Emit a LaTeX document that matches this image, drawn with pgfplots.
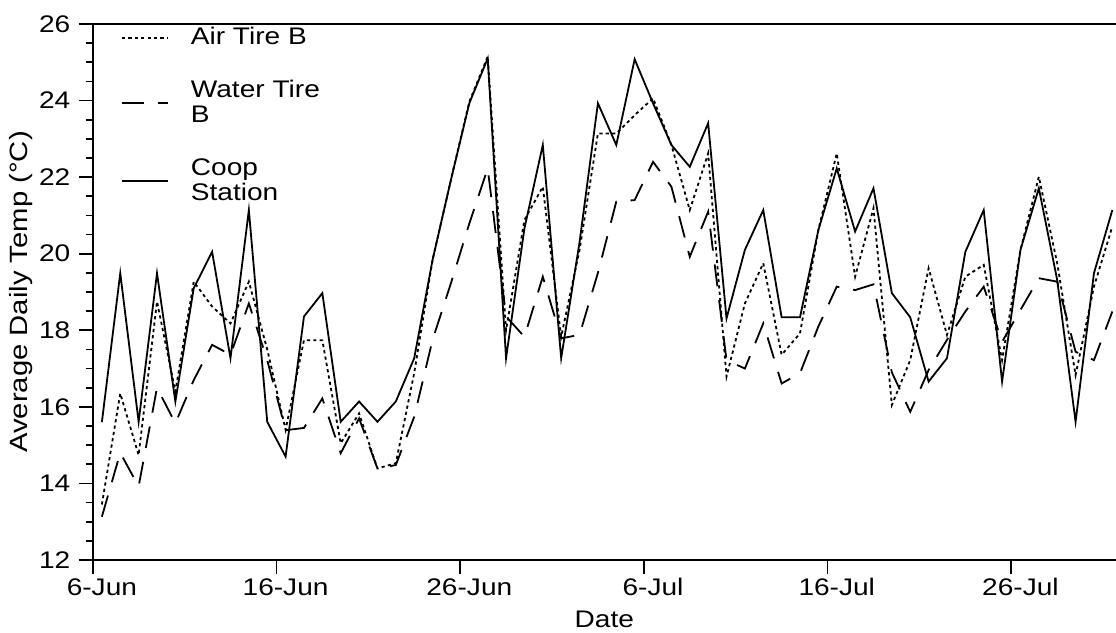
\documentclass[border=0pt]{standalone}
\usepackage{fontspec}
\setmainfont{Liberation Sans}[FakeStretch=1.17]
\usepackage{pgfplots}
\pgfplotsset{compat=1.18}
\usepackage{pgfplotstable}

% daily means, one row per day (d = day slot, 6-Jun is 0.5)
\pgfplotstableread{
d     coop   air    water
0.5   15.60  13.45  13.13
1.5   19.49  16.35  14.80
2.5   15.61  14.74  13.92
3.5   19.49  18.75  16.50
4.5   16.14  16.40  15.57
5.5   19.10  19.27  16.70
6.5   20.05  18.62  17.62
7.5   17.27  18.18  17.36
8.5   21.14  19.27  18.70
9.5   15.61  17.50  17.22
10.5  14.70  15.40  15.39
11.5  18.36  17.74  15.45
12.5  18.97  17.74  16.22
13.5  15.61  15.05  14.79
14.5  16.14  15.83  15.70
15.5  15.61  14.39  14.39
16.5  16.14  14.53  14.48
17.5  17.27  16.88  15.74
18.5  19.84  19.84  17.75
19.5  21.93  21.93  19.23
20.5  23.93  23.97  20.79
21.5  25.10  25.15  22.23
22.5  17.27  18.00  18.36
23.5  20.66  20.88  17.83
24.5  22.84  21.75  19.40
25.5  17.27  17.83  17.79
26.5  20.30  20.10  17.88
27.5  23.93  23.14  19.50
28.5  22.84  23.14  21.36
29.5  25.08  23.62  21.40
30.5  23.93  24.06  22.40
31.5  22.84  22.84  21.75
32.5  22.27  21.14  19.92
33.5  23.41  22.62  21.10
34.5  18.31  16.79  17.22
35.5  20.10  18.70  17.00
36.5  21.14  19.75  18.18
37.5  18.34  17.36  16.61
38.5  18.34  17.92  16.88
39.5  20.62  20.62  18.10
40.5  22.23  22.62  19.14
41.5  20.58  19.40  19.05
42.5  21.71  21.19  19.20
43.5  18.97  16.05  16.90
44.5  18.34  17.22  15.87
45.5  16.66  19.62  16.96
46.5  17.27  17.88  17.75
47.5  20.05  19.40  18.49
48.5  21.14  19.71  19.14
49.5  16.66  17.22  17.70
50.5  20.10  20.10  18.53
51.5  21.71  22.01  19.36
52.5  19.31  19.75  19.27
53.5  15.61  16.83  17.44
54.5  19.49  19.14  17.22
55.5  21.14  20.71  18.49
}\temps

\begin{document}
\fontsize{12}{12.5}\selectfont
\begin{tikzpicture}
\begin{axis}[
    scale only axis,
    width=511.65pt, height=268pt,
    xmin=0, xmax=55.7,
    ymin=12, ymax=26,
    axis x line=box,
    axis y line=left,
    axis line style={-, line width=0.9pt},
    xtick pos=left, ytick pos=left,
    tick align=outside,
    major tick length=7pt, minor tick length=3.5pt,
    tick style={black, line width=0.9pt},
    xtick={0,10,...,50}, xticklabels={},
    extra x ticks={0.5,10.5,20.5,30.5,40.5,50.5},
    extra x tick labels={6-Jun,16-Jun,26-Jun,6-Jul,16-Jul,26-Jul},
    extra x tick style={grid=none, major tick length=0pt,
        xticklabel style={yshift=-5pt}},
    ytick={12,14,...,26},
    minor y tick num=3,
    /pgf/number format/assume math mode=true,
    xlabel={Date},
    ylabel={Average Daily Temp (°C)},
    xlabel style={at={(axis description cs:0.5,-0.110)}, anchor=center},
    ylabel style={at={(axis description cs:-0.0701,0.5)}, anchor=center,
        font=\fontsize{12.5}{13}\selectfont},
    legend style={draw=none, fill=none,
        at={(axis description cs:0,1)}, anchor=north west,
        xshift=14pt, yshift=0.5pt, inner sep=0pt, row sep=12pt,
        /tikz/every odd column/.append style={column sep=9pt},
        cells={anchor=west, align=left}},
    legend image code/.code={\draw[#1] (0pt,0pt) -- (23pt,0pt);},
]
\addplot[black, mark=none, line width=0.9pt, dash pattern=on 1.6pt off 1.6pt]
    table[x=d, y=air] {\temps};
\addlegendentry{Air Tire B}
\addplot[black, mark=none, line width=0.9pt, dash pattern=on 11pt off 7pt]
    table[x=d, y=water] {\temps};
\addlegendentry{Water Tire\\B}
\addplot[black, mark=none, line width=0.9pt]
    table[x=d, y=coop] {\temps};
\addlegendentry{Coop\\Station}
\end{axis}
\pgfresetboundingbox
\path[use as bounding box] (current axis.south west) ++(-46.35pt,-36.5pt)
    rectangle ++(558pt,316.5pt);
\end{tikzpicture}
\end{document}
